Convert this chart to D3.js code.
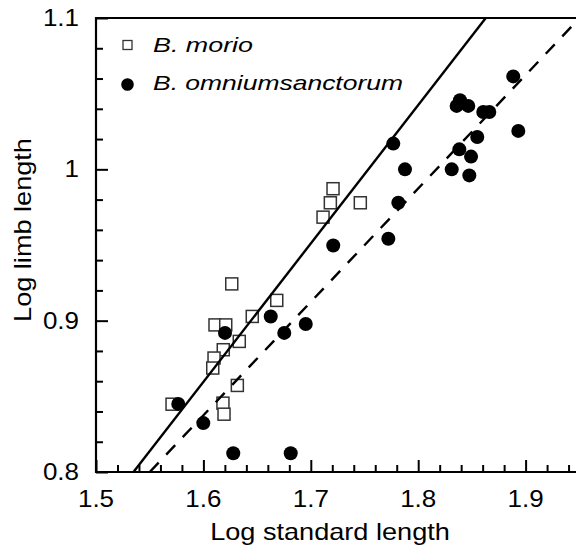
<!DOCTYPE html>
<html>
<head>
<meta charset="utf-8">
<script src="https://cdn.jsdelivr.net/npm/d3@7"></script>
<style>
  html, body { margin: 0; padding: 0; background: #fff; }
  svg { display: block; }
  text { font-family: "Liberation Sans", Arial, Helvetica, sans-serif; fill: #000; }
</style>
</head>
<body>
<svg id="chart" width="576" height="548"></svg>
<script>
// ---- data ----
const seriesNames = ["B. morio", "B. omniumsanctorum"];

const morioX = [1.6264, 1.6683, 1.6455, 1.6108, 1.6208, 1.6334, 1.6185, 1.6099, 1.6087,
                1.6316, 1.6182, 1.6192, 1.5708, 1.7207, 1.7182, 1.7114, 1.7461];
const morioY = [0.9243, 0.9134, 0.9028, 0.8972, 0.8972, 0.8863, 0.8808, 0.8753, 0.8687,
                0.8572, 0.8455, 0.8382, 0.8448, 0.9872, 0.9779, 0.9684, 0.9779];

const omniX = [1.6201, 1.6627, 1.6753, 1.6953, 1.5766, 1.5999, 1.6278, 1.6813,
               1.7768, 1.7877, 1.7815, 1.7722, 1.7209,
               1.8885, 1.8389, 1.8358, 1.8466, 1.8606, 1.8662, 1.8550, 1.8932,
               1.8383, 1.8492, 1.8312, 1.8476];
const omniY = [0.8919, 0.9028, 0.8919, 0.8978, 0.8450, 0.8323, 0.8124, 0.8124,
               1.0170, 1.0000, 0.9779, 0.9541, 0.9497,
               1.0614, 1.0457, 1.0419, 1.0419, 1.0379, 1.0379, 1.0214, 1.0254,
               1.0132, 1.0084, 1.0000, 0.9960];

// fitted lines: [x0, y0, x1, y1]
const morioFit = [1.5349, 0.8000, 1.8629, 1.1000];
const omniFit  = [1.5500, 0.8000, 1.9470, 1.0975];

const xMajorTicks = [1.5, 1.6, 1.7, 1.8, 1.9];
const xTickLabels = ["1.5", "1.6", "1.7", "1.8", "1.9"];
const yMajorTicks = [0.8, 0.9, 1.0, 1.1];
const yTickLabels = ["0.8", "0.9", "1", "1.1"];
const xTitle = "Log standard length";
const yTitle = "Log limb length";

// ---- layout ----
const svg = d3.select("#chart");
const mLeft = 96, mRight = 576, mTop = 18, mBottom = 472;
const stretch = 1.13;
const x = d3.scaleLinear().domain([1.5, 1.5 + 480 / 1074]).range([mLeft, mRight]);
const y = d3.scaleLinear().domain([0.8, 1.1]).range([mBottom, mTop]);

const minorX = d3.range(1.5, 1.9401, 0.02).map(v => +v.toFixed(2));
const minorY = d3.range(0.8, 1.1001, 0.02).map(v => +v.toFixed(2));
const isMajor = v => Math.abs(v * 10 - Math.round(v * 10)) < 1e-6;

// x axis (ticks pointing inward/up)
const xAxis = d3.axisBottom(x).tickValues(minorX).tickSize(0).tickFormat("");
const gx = svg.append("g").attr("transform", `translate(0,${mBottom})`).call(xAxis);
gx.select(".domain").remove();
gx.selectAll(".tick line").attr("y2", d => isMajor(d) ? -12 : -7)
  .attr("stroke", "#000").attr("stroke-width", 2);

const yAxis = d3.axisLeft(y).tickValues(minorY).tickSize(0).tickFormat("");
const gy = svg.append("g").attr("transform", `translate(${mLeft},0)`).call(yAxis);
gy.select(".domain").remove();
gy.selectAll(".tick line").attr("x2", d => isMajor(d) ? 12 : 7)
  .attr("stroke", "#000").attr("stroke-width", 2);

// frame lines
svg.append("path")
  .attr("d", `M${mRight},${mTop}H${mLeft}V${mBottom}H${mRight}`)
  .attr("fill", "none").attr("stroke", "#000").attr("stroke-width", 2.2);

// tick labels
svg.append("g").selectAll("text").data(xMajorTicks).join("text")
  .attr("transform", d => `translate(${x(d)},507) scale(${stretch},1)`)
  .attr("text-anchor", "middle").attr("font-size", 23)
  .text((d, i) => xTickLabels[i]);

svg.append("g").selectAll("text").data(yMajorTicks).join("text")
  .attr("transform", d => `translate(79,${y(d) + 8}) scale(${stretch},1)`)
  .attr("text-anchor", "end").attr("font-size", 23)
  .text((d, i) => yTickLabels[i]);

// axis titles
svg.append("text").attr("transform", `translate(330,540) scale(${stretch},1)`)
  .attr("text-anchor", "middle").attr("font-size", 24).text(xTitle);
svg.append("text").attr("transform", `translate(31,230) rotate(-90) scale(${stretch},1)`)
  .attr("text-anchor", "middle").attr("font-size", 24).text(yTitle);

// plot area clip
svg.append("clipPath").attr("id", "clip").append("rect")
  .attr("x", mLeft).attr("y", mTop).attr("width", mRight - mLeft).attr("height", mBottom - mTop);
const plot = svg.append("g").attr("clip-path", "url(#clip)");

// markers
const sq = 12;
plot.append("g").selectAll("rect").data(morioX).join("rect")
  .attr("x", d => x(d) - sq / 2).attr("y", (d, i) => y(morioY[i]) - sq / 2)
  .attr("width", sq).attr("height", sq)
  .attr("fill", "#fff").attr("stroke", "#333").attr("stroke-width", 1.5);

plot.append("g").selectAll("circle").data(omniX).join("circle")
  .attr("cx", d => x(d)).attr("cy", (d, i) => y(omniY[i])).attr("r", 7)
  .attr("fill", "#000");

// fit lines
plot.append("line")
  .attr("x1", x(morioFit[0])).attr("y1", y(morioFit[1]))
  .attr("x2", x(morioFit[2])).attr("y2", y(morioFit[3]))
  .attr("stroke", "#000").attr("stroke-width", 2.4);
plot.append("line")
  .attr("x1", x(omniFit[0])).attr("y1", y(omniFit[1]))
  .attr("x2", x(omniFit[2])).attr("y2", y(omniFit[3]))
  .attr("stroke", "#000").attr("stroke-width", 2.4)
  .attr("stroke-dasharray", "13,11");

// legend
const lg = svg.append("g");
lg.append("rect").attr("x", 123).attr("y", 40.5).attr("width", 9).attr("height", 9)
  .attr("fill", "#fff").attr("stroke", "#333").attr("stroke-width", 1.3);
lg.append("circle").attr("cx", 127.5).attr("cy", 84.5).attr("r", 6.3).attr("fill", "#000");
lg.append("text").attr("x", 153).attr("y", 52).attr("font-size", 21)
  .attr("font-style", "italic")
  .attr("textLength", 100).attr("lengthAdjust", "spacingAndGlyphs").text(seriesNames[0]);
lg.append("text").attr("x", 153).attr("y", 90).attr("font-size", 21)
  .attr("font-style", "italic")
  .attr("textLength", 250).attr("lengthAdjust", "spacingAndGlyphs").text(seriesNames[1]);
</script>
</body>
</html>
